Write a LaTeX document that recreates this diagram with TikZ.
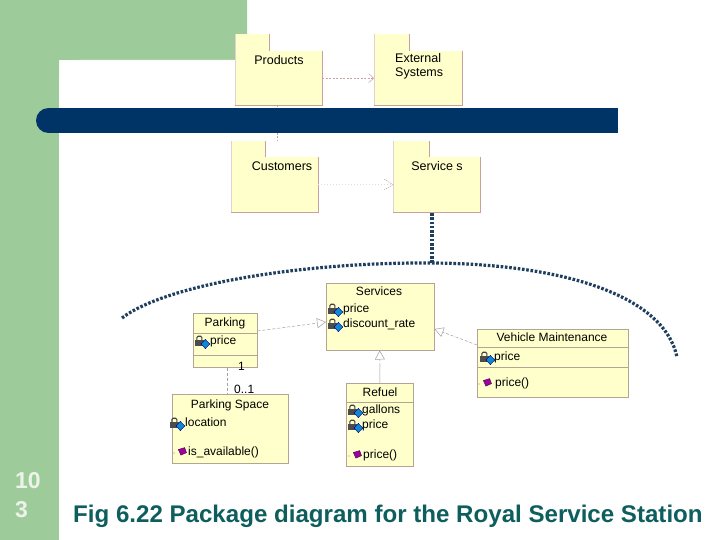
\documentclass[tikz,border=0pt]{standalone}
\usepackage{fontspec}
\setmainfont{Liberation Sans}
\usetikzlibrary{arrows.meta}
\definecolor{bggreen}{HTML}{9ECB9A}
\definecolor{navybar}{HTML}{003366}
\definecolor{pkgfill}{HTML}{FFFFCC}
\definecolor{pkgline}{HTML}{C8A0A0}
\definecolor{clsline}{HTML}{B4A494}
\definecolor{conline}{HTML}{A0A0A0}
\definecolor{captcol}{HTML}{0E5E5E}
\definecolor{numcol}{HTML}{EEF3EA}
\definecolor{dotcol}{HTML}{1F3F5F}
\tikzset{
  pkgbody/.style={fill=pkgfill, inner sep=0pt, anchor=north west},
  pkgtext/.style={font=\fontsize{12.5}{14.5}\selectfont, inner sep=0pt, align=left},
  clsbox/.style={fill=pkgfill, draw=clsline, line width=0.5pt, inner sep=0pt, anchor=north west},
  clstitle/.style={font=\fontsize{12}{14}\selectfont, inner sep=0pt, text height=8.5pt, text depth=2.5pt},
  clsattr/.style={font=\fontsize{12}{14}\selectfont, inner sep=0pt, anchor=west, text height=8.5pt, text depth=2.5pt},
  sepline/.style={draw=clsline, line width=0.5pt},
  pkgdash/.style={draw=pkgline, line width=0.5pt, dash pattern=on 2pt off 1.5pt},
  condash/.style={draw=conline, line width=0.5pt, dash pattern=on 3pt off 2pt},
  opentri/.style={-{Triangle[open, length=9pt, width=10pt]}},
  openv/.style={-{Straight Barb[length=5pt, width=9pt]}},
  navydots/.style={draw=dotcol, line width=3.2pt, dash pattern=on 2.6pt off 1.7pt},
  attricon/.pic={
    \begin{scope}[scale=1.25]
    \draw[gray!50!black, line width=1.1pt, rounded corners=1.2pt] (1.5,-0.5) -- (1.5,-3.8) -- (5.5,-3.8) -- (5.5,-0.5);
    \fill[gray!60!black] (0,-1) rectangle (7,4);
    \filldraw[fill=cyan!70!blue, draw=blue!50!black, line width=0.4pt] (8.3,-1.3) -- (11.8,2.4) -- (8.3,6.1) -- (4.8,2.4) -- cycle;
    \end{scope}
  },
  opicon/.pic={
    \fill[gray] (0,1) circle[radius=0.6pt];
    \begin{scope}[scale=1.25]
    \filldraw[fill=violet!75!magenta, draw=violet!50!black, line width=0.4pt] (3.5,-2) -- (8.5,-3.5) -- (10,0.5) -- (5.5,2.5) -- cycle;
    \end{scope}
  }
}
\begin{document}
\begin{tikzpicture}[x=1pt, y=-1pt]
\useasboundingbox (0,0) rectangle (720,540);
\fill[white] (0,0) rectangle (720,540);
% green frame
\fill[bggreen] (0,0) -- (247,0) -- (247,60) -- (59,60) -- (59,540) -- (0,540) -- cycle;
\fill[white, rounded corners=20pt] (59,60) rectangle (800,620);

% ---------- packages ----------
% Products
\fill[pkgfill] (235,34) rectangle (269,51);
\node[pkgbody, minimum width=87pt, minimum height=54pt] (prod) at (235,51) {};
\draw[pkgline!50, line width=0.4pt] (235,34) -- (prod.south west);
\draw[pkgline, line width=0.5pt] (269,34) -- (269,51);
\draw[pkgline, line width=0.5pt] (prod.north east) -- (prod.south east) -- (prod.south west);
\node[pkgtext] (prodt) at (279,60) {Products};
% External Systems
\fill[pkgfill] (374,34) rectangle (409,51);
\node[pkgbody, minimum width=88pt, minimum height=54pt] (ext) at (374,51) {};
\draw[pkgline!50, line width=0.4pt] (374,34) -- (ext.south west);
\draw[pkgline, line width=0.5pt] (409,34) -- (409,51);
\draw[pkgline, line width=0.5pt] (ext.north east) -- (ext.south east) -- (ext.south west);
\node[pkgtext, anchor=north west] (extt) at (395,53) {External\\Systems};
% Customers
\fill[pkgfill] (231,141) rectangle (265,157);
\node[pkgbody, minimum width=87pt, minimum height=55pt] (cust) at (231,157) {};
\draw[pkgline!50, line width=0.4pt] (231,141) -- (cust.south west);
\draw[pkgline, line width=0.5pt] (265,141) -- (265,157);
\draw[pkgline, line width=0.5pt] (cust.north east) -- (cust.south east) -- (cust.south west);
\node[pkgtext] (custt) at (282,166) {Customers};
% Service s
\fill[pkgfill] (393,141) rectangle (429,157);
\node[pkgbody, minimum width=87pt, minimum height=55pt] (servp) at (393,157) {};
\draw[pkgline!50, line width=0.4pt] (393,141) -- (servp.south west);
\draw[pkgline, line width=0.5pt] (429,141) -- (429,157);
\draw[pkgline, line width=0.5pt] (servp.north east) -- (servp.south east) -- (servp.south west);
\node[pkgtext] (servpt) at (437,166) {Service s};

% package connectors
\draw[pkgdash, openv] (prod.east) -- (ext.west);
\coordinate (custtop) at (277,141);
\draw[pkgdash] (277,105) coordinate (prodbot) -- (custtop);
\draw[draw=pkgline!40, line width=0.4pt, dash pattern=on 1pt off 2pt] (cust.east) -- (servp.west);
\draw[pkgline, line width=0.5pt, dash pattern=on 1.5pt off 1pt] (384,179) -- (servp.west) -- (384,190);

% blue bar
\fill[navybar] (48,108) rectangle (618,133);
\fill[navybar] (48.5,120.5) circle[radius=12.5pt];

% navy dotted connector
\coordinate (dtop) at (432,213);
\coordinate (dpeak) at (432,263);
\coordinate (dleft) at (122,318);
\coordinate (dright) at (677,357);
\draw[navydots] (dtop) -- (dpeak);
\draw[navydots] (dleft) .. controls (165,285) and (300,262) .. (dpeak) .. controls (565,264) and (664,296) .. (dright);

% ---------- classes ----------
% Services
\node[clsbox, minimum width=108pt, minimum height=67pt] (services) at (326,283) {};
\node[clstitle] (servt) at (379,292) {Services};
\pic at (328,309) {attricon};
\node[clsattr] (sa1) at (343,309) {price};
\pic at (328,324) {attricon};
\node[clsattr] (sa2) at (343,324) {discount\_rate};

% Parking
\node[clsbox, minimum width=64pt, minimum height=54pt] (parking) at (193,313) {};
\node[clstitle] (parkt) at (225,323) {Parking};
\draw[sepline] (193,333) -- (257,333);
\pic at (195,341) {attricon};
\node[clsattr] (pa1) at (210,341) {price};
\draw[sepline] (193,355) -- (257,355);

% Parking Space
\node[clsbox, minimum width=116pt, minimum height=69pt] (pspace) at (172,394) {};
\node[clstitle] (pst) at (230,405) {Parking Space};
\pic at (170,423) {attricon};
\node[clsattr] (psa1) at (185,423) {location};
\pic at (174,452) {opicon};
\node[clsattr] (pso1) at (188,452) {is\_available()};

% Refuel
\node[clsbox, minimum width=67pt, minimum height=83pt] (refuel) at (346,383) {};
\node[clstitle] (reft) at (380,393) {Refuel};
\draw[sepline] (346,402) -- (413,402);
\pic at (348,410) {attricon};
\node[clsattr] (ra1) at (362,410) {gallons};
\pic at (348,425) {attricon};
\node[clsattr] (ra2) at (362,425) {price};
\pic at (349,455) {opicon};
\node[clsattr] (ro1) at (363,455) {price()};

% Vehicle Maintenance
\node[clsbox, minimum width=151pt, minimum height=68pt] (vm) at (477,329) {};
\node[clstitle] (vmt) at (552,338) {Vehicle Maintenance};
\draw[sepline] (477,347) -- (628,347);
\pic at (480,357) {attricon};
\node[clsattr] (va1) at (494,357) {price};
\draw[sepline] (477,367) -- (628,367);
\pic at (479,383) {opicon};
\node[clsattr] (vo1) at (495,383) {price()};

% class connectors
\draw[condash, opentri] (parking.east |- 0,331) -- (services.west |- 0,322);
\draw[condash, opentri] (vm.west |- 0,345) -- (services.east |- 0,329);
\draw[conline, line width=0.5pt] (refuel.north) -- (380,366);
\draw[condash, opentri] (380,366) -- (services.south -| refuel.north);
\draw[condash] (parking.south -| 227,0) -- (pspace.north -| 227,0);
\node[clsattr] (m1) at (238,367) {1};
\node[clsattr] (m01) at (234,390) {0..1};

% slide number and caption
\node[anchor=west, inner sep=0pt, text=numcol, font=\bfseries\fontsize{23}{25}\selectfont] (n10) at (15,481) {10};
\node[anchor=west, inner sep=0pt, text=numcol, font=\bfseries\fontsize{23}{25}\selectfont] (n3) at (15,510) {3};
\node[anchor=west, inner sep=0pt, text=captcol, font=\bfseries\fontsize{24.1}{27}\selectfont] (caption) at (73,516) {Fig 6.22 Package diagram for the Royal Service Station};
\end{tikzpicture}
\end{document}
